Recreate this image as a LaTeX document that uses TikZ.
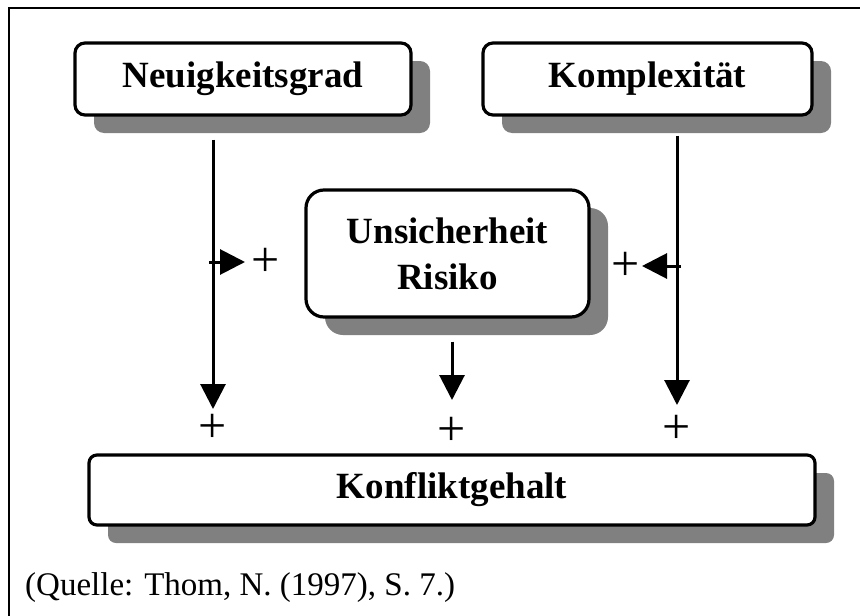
\documentclass[tikz,border=0pt]{standalone}
\usepackage{fontspec}
\setmainfont{Liberation Serif}
\usetikzlibrary{arrows.meta,shadows,calc}
\begin{document}
\begin{tikzpicture}[x=1pt,y=-1pt,
  box/.style={draw=black, line width=3.2pt, fill=white, rounded corners=10pt, inner sep=0pt,
    font=\fontsize{37}{46}\selectfont\bfseries, align=center,
    drop shadow={shadow xshift=19pt, shadow yshift=-18pt, fill=black!50, opacity=1}},
  arr/.style={line width=3pt, -{Triangle[length=25pt,width=25pt]}},
  plus/.style={inner sep=0pt, font=\fontsize{50}{50}\selectfont}
]
\useasboundingbox (0,0) rectangle (860,616);
\coordinate (ftr) at (860,8);
\coordinate (ftl) at (9,8);
\coordinate (fbl) at (9,616);
\draw[line width=2pt] (ftr) -- (ftl) -- (fbl);

\node[box, minimum width=336pt, minimum height=72pt] (n) at (243,79) {Neuigkeitsgrad};
\node[box, minimum width=329pt, minimum height=72pt] (k) at (647.5,79) {Komplexität};
\node[box, rounded corners=18pt, minimum width=283pt, minimum height=127pt] (u) at (447.5,253.5) {Unsicherheit\\Risiko};
\node[box, rounded corners=8pt, minimum width=726pt, minimum height=70pt] (c) at (452,490) {Konfliktgehalt};

\node[plus] (p1) at (213,428) {+};
\node[plus] (p2) at (452,431) {+};
\node[plus] (p3) at (677,429) {+};
\node[plus] (p4) at (266,262) {+};
\node[plus] (p5) at (626,266) {+};

\draw[arr] ($(n.south -| p1)+(0,23)$) -- ($(p1)+(0,-19)$);
\draw[arr] ($(k.south -| p3)+(0,19)$) -- ($(p3)+(0,-24)$);
\draw[arr] ($(u.south -| p2)+(0,23)$) -- ($(p2)+(0,-31)$);
\draw[arr] ($(p1 |- p4)+(-4,0)$) -- ($(p4)+(-21,0)$);
\draw[arr] ($(p3 |- p5)+(4,0)$) -- ($(p5)+(16,0)$);

\node[anchor=base west, inner sep=0pt, font=\fontsize{33}{40}\selectfont] (q) at (25,595) {(Quelle: Thom, N. (1997), S. 7.)};
\end{tikzpicture}
\end{document}
